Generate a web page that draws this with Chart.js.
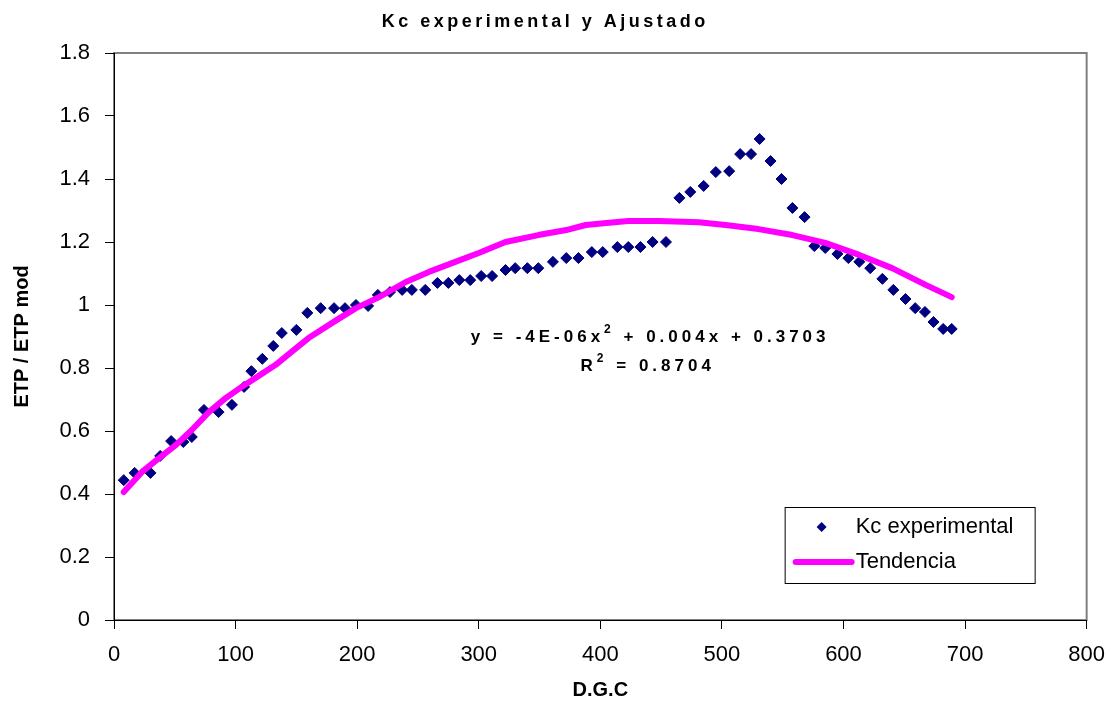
<!DOCTYPE html>
<html>
<head>
<meta charset="utf-8">
<title>Kc experimental y Ajustado</title>
<script src="https://cdn.jsdelivr.net/npm/chart.js@4.4.1/dist/chart.umd.min.js"></script>
<style>
  html, body { margin: 0; padding: 0; background: #fff; }
</style>
</head>
<body>
<canvas id="chart-kc" width="1118" height="706"></canvas>
<script>
// grados día acumulados (D.G.C) y Kc medido
const dgc = [8, 17, 30, 38, 47, 57, 64, 74, 86, 97,
  107, 113, 122, 131, 138, 150, 159, 170, 181, 190,
  199, 209, 217, 227, 237, 245, 256, 266, 275, 284,
  293, 302, 311, 322, 330, 340, 349, 361, 372, 382,
  393, 402, 414, 423, 433, 443, 454, 465, 474, 485,
  495, 506, 515, 524, 531, 540, 549, 558, 568, 576,
  585, 595, 604, 613, 622, 632, 641, 651, 659, 667,
  674, 682, 689];
const kcExp = [0.444, 0.467, 0.467, 0.521, 0.568, 0.565, 0.581, 0.667, 0.660, 0.683,
  0.740, 0.790, 0.829, 0.870, 0.911, 0.921, 0.975, 0.990, 0.990, 0.990,
  1.000, 0.997, 1.032, 1.041, 1.048, 1.048, 1.048, 1.070, 1.070, 1.079,
  1.079, 1.092, 1.092, 1.111, 1.117, 1.117, 1.117, 1.137, 1.149, 1.149,
  1.168, 1.168, 1.184, 1.184, 1.184, 1.200, 1.200, 1.340, 1.359, 1.378,
  1.422, 1.425, 1.479, 1.479, 1.527, 1.457, 1.400, 1.308, 1.279, 1.187,
  1.181, 1.162, 1.149, 1.137, 1.117, 1.083, 1.048, 1.019, 0.990, 0.978,
  0.946, 0.924, 0.924];

// curva de tendencia
const trendDgc = [8, 23, 37, 51, 64, 78, 92, 105, 119, 133, 146, 160, 183, 199, 218,
  240, 259, 278, 300, 322, 349, 372, 388, 405, 423, 448, 481, 503, 530, 558,
  585, 613, 640, 668, 689];
const trendKc = [0.406, 0.470, 0.514, 0.556, 0.603, 0.660, 0.705, 0.740, 0.775, 0.810,
  0.851, 0.895, 0.952, 0.990, 1.025, 1.073, 1.105, 1.133, 1.165, 1.200,
  1.222, 1.238, 1.254, 1.260, 1.267, 1.267, 1.263, 1.254, 1.241, 1.222,
  1.197, 1.159, 1.117, 1.063, 1.025];

const xTicks = [0, 100, 200, 300, 400, 500, 600, 700, 800];
const yTicks = ['0', '0.2', '0.4', '0.6', '0.8', '1', '1.2', '1.4', '1.6', '1.8'];

const TITLE = 'Kc experimental y Ajustado';
const EQ_LINE1 = [{ t: 'y = -4E-06x' }, { t: '2', sup: true }, { t: ' + 0.004x + 0.3703' }];
const EQ_LINE2 = [{ t: 'R' }, { t: '2', sup: true }, { t: ' = 0.8704' }];

const FONT = '"Liberation Sans", Arial, sans-serif';
const COLORS = {
  points: '#000080',
  trend: '#ff00ff',
  frame: '#808080',
  text: '#000000',
};

Chart.defaults.font.family = FONT;
Chart.defaults.color = COLORS.text;

function spacedText(ctx, parts, cx, cy) {
  ctx.save();
  ctx.letterSpacing = '4px';
  ctx.textBaseline = 'middle';
  ctx.textAlign = 'left';
  ctx.fillStyle = COLORS.text;
  const sized = parts.map(p => {
    ctx.font = `bold ${p.sup ? 12 : 17}px ${FONT}`;
    return { ...p, w: ctx.measureText(p.t).width };
  });
  let x = cx - sized.reduce((s, p) => s + p.w, 0) / 2;
  sized.forEach(p => {
    ctx.font = `bold ${p.sup ? 12 : 17}px ${FONT}`;
    ctx.fillText(p.t, x, p.sup ? cy - 7 : cy);
    x += p.w;
  });
  ctx.restore();
}

// marco gris del área de trazado, debajo de los ejes
const plotFrame = {
  id: 'plotFrame',
  beforeDraw(chart) {
    const { ctx, chartArea: a } = chart;
    ctx.save();
    ctx.fillStyle = '#fff';
    ctx.fillRect(0, 0, chart.width, chart.height);
    ctx.strokeStyle = COLORS.frame;
    ctx.lineWidth = 2;
    ctx.strokeRect(a.left, a.top, a.right - a.left, a.bottom - a.top);
    ctx.restore();
  },
};

// título, ecuación de la tendencia y leyenda
const overlays = {
  id: 'overlays',
  afterDraw(chart) {
    const { ctx, chartArea: a, scales } = chart;
    ctx.save();
    ctx.fillStyle = COLORS.text;
    ctx.font = `bold 18px ${FONT}`;
    ctx.letterSpacing = '3.5px';
    ctx.textAlign = 'center';
    ctx.textBaseline = 'middle';
    ctx.fillText(TITLE, a.right / 2 + 2, 22);
    ctx.restore();

    spacedText(ctx, EQ_LINE1, scales.x.getPixelForValue(441), scales.y.getPixelForValue(0.898));
    spacedText(ctx, EQ_LINE2, scales.x.getPixelForValue(439), scales.y.getPixelForValue(0.806));

    // leyenda
    const box = { w: 250, h: 76 };
    box.l = a.right - 52 - box.w;
    box.t = a.bottom - 37 - box.h;
    ctx.save();
    ctx.fillStyle = '#fff';
    ctx.fillRect(box.l, box.t, box.w, box.h);
    ctx.strokeStyle = '#000';
    ctx.lineWidth = 1;
    ctx.strokeRect(box.l + 0.5, box.t + 0.5, box.w, box.h);

    const [kcSet, trendSet] = chart.data.datasets;
    const y1 = box.t + 20, y2 = box.t + 55;
    const dx = box.l + 37, r = 5;
    ctx.fillStyle = kcSet.pointBackgroundColor;
    ctx.beginPath();
    ctx.moveTo(dx - r, y1);
    ctx.lineTo(dx, y1 - r);
    ctx.lineTo(dx + r, y1);
    ctx.lineTo(dx, y1 + r);
    ctx.closePath();
    ctx.fill();

    ctx.strokeStyle = trendSet.borderColor;
    ctx.lineWidth = trendSet.borderWidth;
    ctx.lineCap = 'round';
    ctx.beginPath();
    ctx.moveTo(box.l + 11, y2);
    ctx.lineTo(box.l + 67, y2);
    ctx.stroke();

    ctx.fillStyle = COLORS.text;
    ctx.font = `22px ${FONT}`;
    ctx.textAlign = 'left';
    ctx.textBaseline = 'middle';
    ctx.fillText(kcSet.label, box.l + 71, y1);
    ctx.fillText(trendSet.label, box.l + 71, y2);
    ctx.restore();
  },
};

const ctx = document.getElementById('chart-kc').getContext('2d');
new Chart(ctx, {
  type: 'scatter',
  data: {
    datasets: [
      {
        label: 'Kc experimental',
        data: dgc.map((x, i) => ({ x, y: kcExp[i] })),
        pointStyle: 'rectRot',
        pointRadius: 5.5,
        pointBorderWidth: 1,
        pointBackgroundColor: COLORS.points,
        pointBorderColor: COLORS.points,
        showLine: false,
        order: 1,
      },
      {
        label: 'Tendencia',
        data: trendDgc.map((x, i) => ({ x, y: trendKc[i] })),
        showLine: true,
        borderColor: COLORS.trend,
        borderWidth: 6,
        borderCapStyle: 'round',
        borderJoinStyle: 'round',
        pointRadius: 0,
        tension: 0,
        order: 0,
      },
    ],
  },
  options: {
    responsive: false,
    animation: false,
    layout: { padding: { top: 53, right: 31, left: 0, bottom: 0 } },
    plugins: {
      legend: { display: false },
      tooltip: { enabled: false },
      title: { display: false },
    },
    scales: {
      x: {
        type: 'linear',
        min: xTicks[0],
        max: xTicks[xTicks.length - 1],
        afterBuildTicks: s => { s.ticks = xTicks.map(v => ({ value: v })); },
        ticks: { font: { size: 22 }, color: COLORS.text, padding: 13 },
        grid: { drawOnChartArea: false, tickLength: 9, color: '#000' },
        border: { color: '#000', width: 1 },
        title: {
          display: true,
          text: 'D.G.C',
          font: { size: 20, weight: 'bold' },
          padding: { top: 0, bottom: 4 },
        },
        afterFit: s => { s.height = 86; },
      },
      y: {
        min: 0,
        max: 1.8,
        afterBuildTicks: s => { s.ticks = yTicks.map(v => ({ value: Number(v) })); },
        ticks: {
          font: { size: 22 },
          color: COLORS.text,
          padding: 15,
          callback: (v, i) => yTicks[i],
        },
        grid: { drawOnChartArea: false, tickLength: 9, color: '#000' },
        border: { color: '#000', width: 1 },
        title: {
          display: true,
          text: 'ETP / ETP mod',
          font: { size: 20, weight: 'bold' },
          padding: { top: 10, bottom: 0 },
        },
        afterFit: s => { s.width = 114; },
      },
    },
  },
  plugins: [plotFrame, overlays],
});
</script>
</body>
</html>
